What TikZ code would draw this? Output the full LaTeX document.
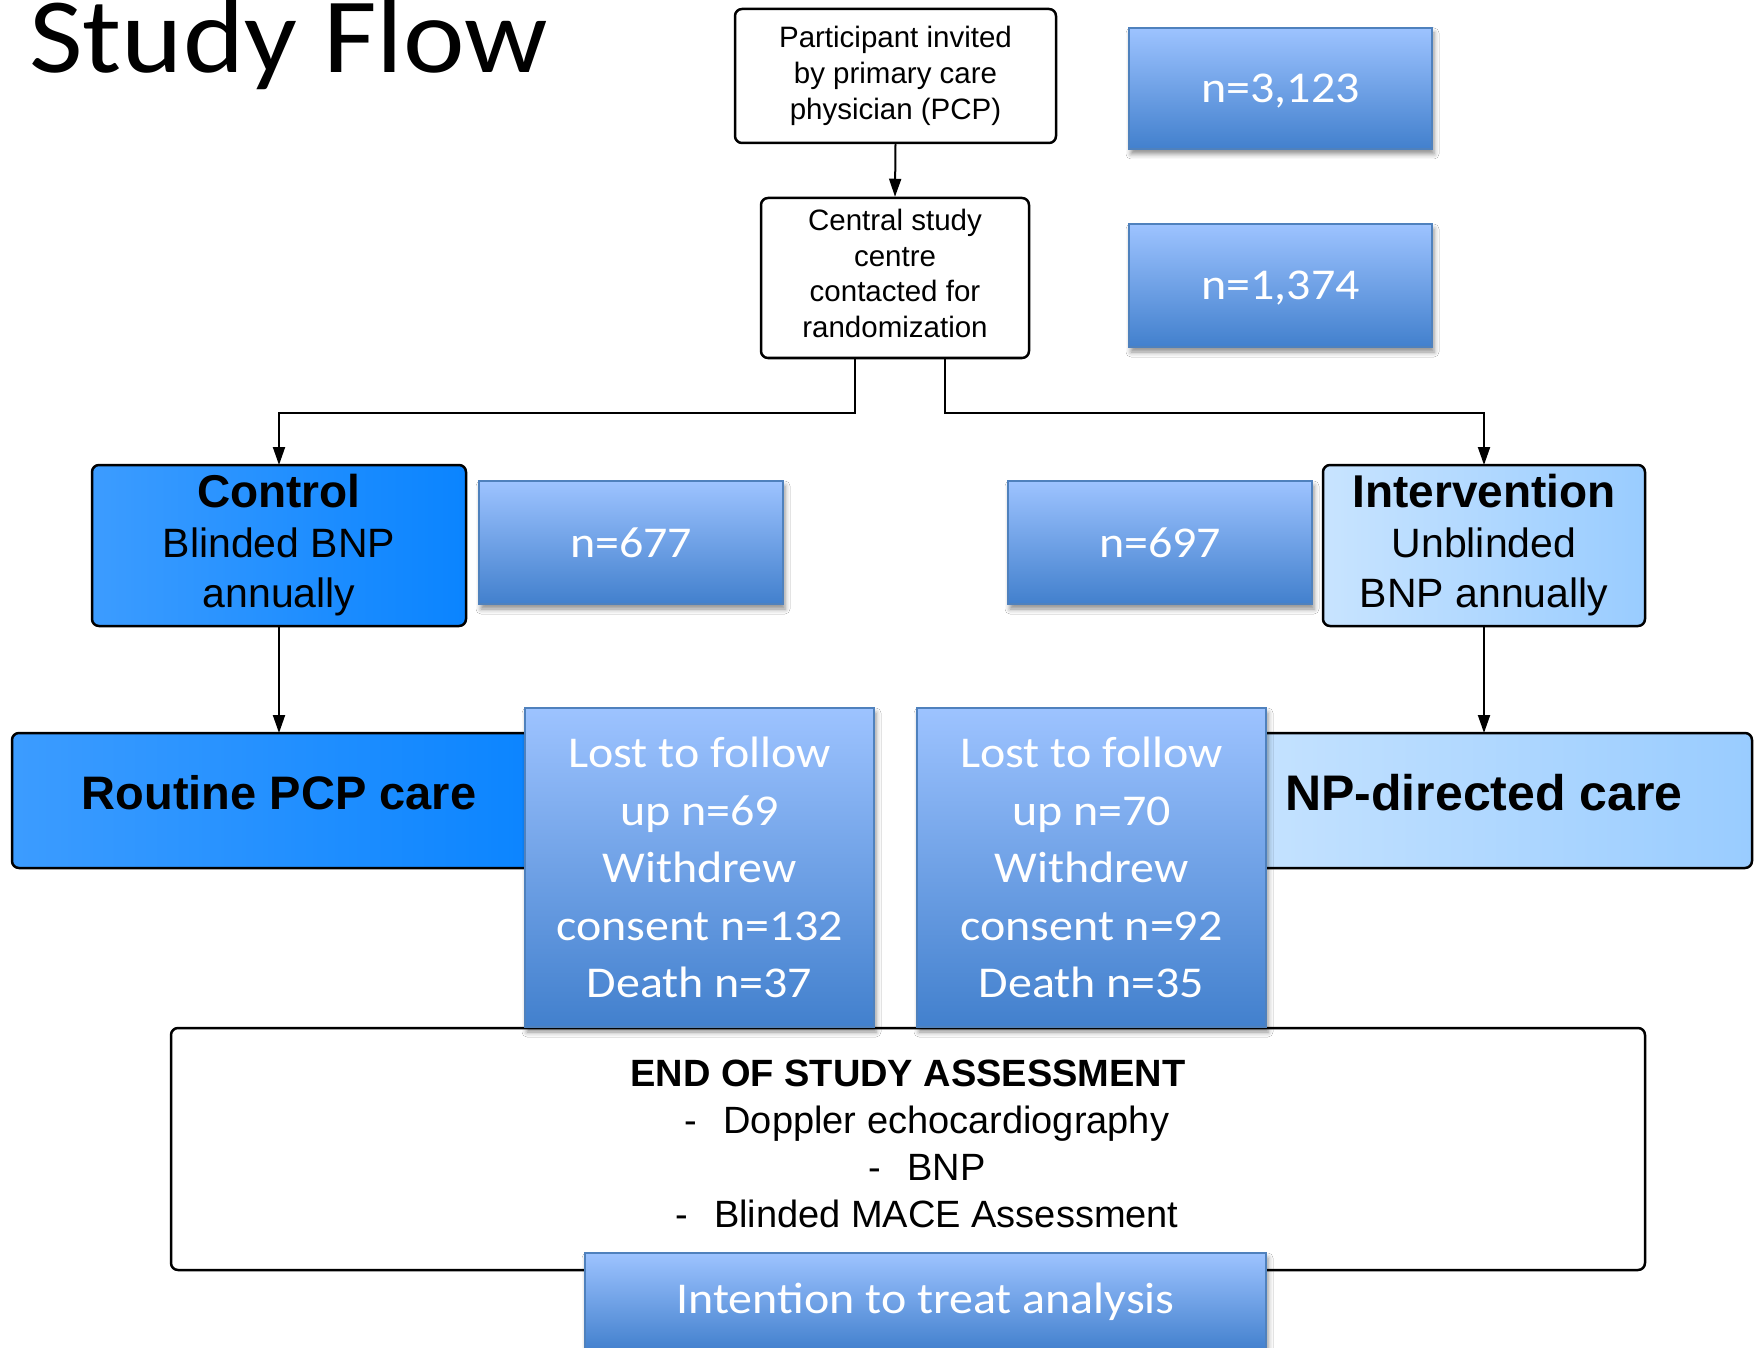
\documentclass[tikz,border=0pt]{standalone}
\usepackage{fontspec}
\setmainfont{Carlito}[FakeStretch=1.09]
\newfontfamily\lucid{Liberation Sans}
\usetikzlibrary{arrows.meta,shadows.blur,calc}
\definecolor{nTop}{HTML}{9DC3FF}
\definecolor{nBot}{HTML}{4280CD}
\definecolor{nBorder}{HTML}{4F81BD}
\definecolor{ctlL}{HTML}{3C9CFF}
\definecolor{ctlR}{HTML}{0A84FF}
\definecolor{intL}{HTML}{C8E4FF}
\definecolor{intR}{HTML}{99CCFF}
\begin{document}
\begin{tikzpicture}[x=1pt,y=-1pt,
  lucid/.style={draw=black, line width=2.5pt, rounded corners=7pt, align=center, inner sep=0pt, text=black},
  nbox/.style={draw=nBorder, line width=1.5pt, top color=nTop, bottom color=nBot, text=white,
    align=center, inner sep=0pt, font=\fontsize{44}{57.5}\selectfont,
    blur shadow={shadow xshift=2pt, shadow yshift=-5pt, shadow blur radius=5pt, shadow opacity=45}},
  ctlbox/.style={lucid, left color=ctlL, right color=ctlR},
  intbox/.style={lucid, left color=intL, right color=intR},
  arr/.style={line width=2pt, -{Triangle[length=18pt,width=12pt]}}
]
\fill[white] (0,0) rectangle (1754,1348);
\useasboundingbox (0,0) rectangle (1754,1348);

\node[anchor=base west, inner sep=0pt, font=\fontsize{107}{107}\selectfont] (title) at (29,73) {Study Flow};

\node[lucid, fill=white, minimum width=321pt, minimum height=134pt, font=\lucid\fontsize{29.5}{36}\selectfont] (part) at (895.5,76) {Participant invited\\by primary care\\physician (PCP)};
\node[lucid, fill=white, minimum width=268pt, minimum height=160pt, font=\lucid\fontsize{29.5}{35.5}\selectfont] (central) at (895,278) {Central study\\centre\\contacted for\\randomization\\[-26.5pt]};

\node[nbox, text depth=0pt, minimum width=303pt, minimum height=121pt] (n1) at (1280.5,88.5) {n=3,123};
\node[nbox, text depth=0pt, minimum width=303pt, minimum height=123pt] (n2) at (1280.5,285.5) {n=1,374};

\draw[arr] (part.south) -- (central.north);
\draw[arr] ([xshift=-40pt]central.south) -- ++(0,54) -| (279,465);
\draw[arr] ([xshift=50pt]central.south) -- ++(0,54) -| (1484,465);

\node[ctlbox, minimum width=374pt, minimum height=161pt, font=\lucid\fontsize{41}{50}\selectfont] (control) at (279,545.5) {{\bfseries\fontsize{46}{50}\selectfont Control}\\Blinded BNP\\annually};
\node[nbox, minimum width=304pt, minimum height=123pt] (n677) at (631,542.5) {n=677};
\node[nbox, minimum width=304pt, minimum height=123pt] (n697) at (1160,542.5) {n=697};
\node[intbox, minimum width=322pt, minimum height=161pt, font=\lucid\fontsize{41}{50}\selectfont] (interv) at (1484,545.5) {{\bfseries\fontsize{46}{50}\selectfont Intervention}\\Unblinded\\BNP annually};

\draw[arr] (control.south) -- (control.south |- 0,733);
\draw[arr] (interv.south) -- (interv.south |- 0,733);

\node[ctlbox, minimum width=534pt, minimum height=135pt, font=\lucid\bfseries\fontsize{47}{50}\selectfont] (routine) at (279,800.5) {Routine PCP care\\[-34pt]};
\node[intbox, minimum width=536pt, minimum height=135pt, font=\lucid\bfseries\fontsize{50}{52}\selectfont] (np) at (1484,800.5) {NP-directed care\\[-36pt]};

\node[lucid, fill=white, minimum width=1474pt, minimum height=242pt] (endbox) at (908,1149) {};
\node[align=center, inner sep=0pt, font=\lucid\fontsize{38}{47}\selectfont] (endtext) at (908,1144) {{\bfseries END OF STUDY ASSESSMENT}\\\hspace*{38pt}-\hspace{26pt}Doppler echocardiography\\\hspace*{38pt}-\hspace{26pt}BNP\\\hspace*{38pt}-\hspace{26pt}Blinded MACE Assessment};

\node[nbox, minimum width=349pt, minimum height=319pt] (lost1) at (699.5,867.5) {Lost to follow\\up n=69\\Withdrew\\consent n=132\\Death n=37};
\node[nbox, minimum width=349pt, minimum height=319pt] (lost2) at (1091.5,867.5) {Lost to follow\\up n=70\\Withdrew\\consent n=92\\Death n=35};

\node[nbox, minimum width=681pt, minimum height=98pt] (itt) at (925.5,1302) {Intention to treat analysis};
\end{tikzpicture}
\end{document}
